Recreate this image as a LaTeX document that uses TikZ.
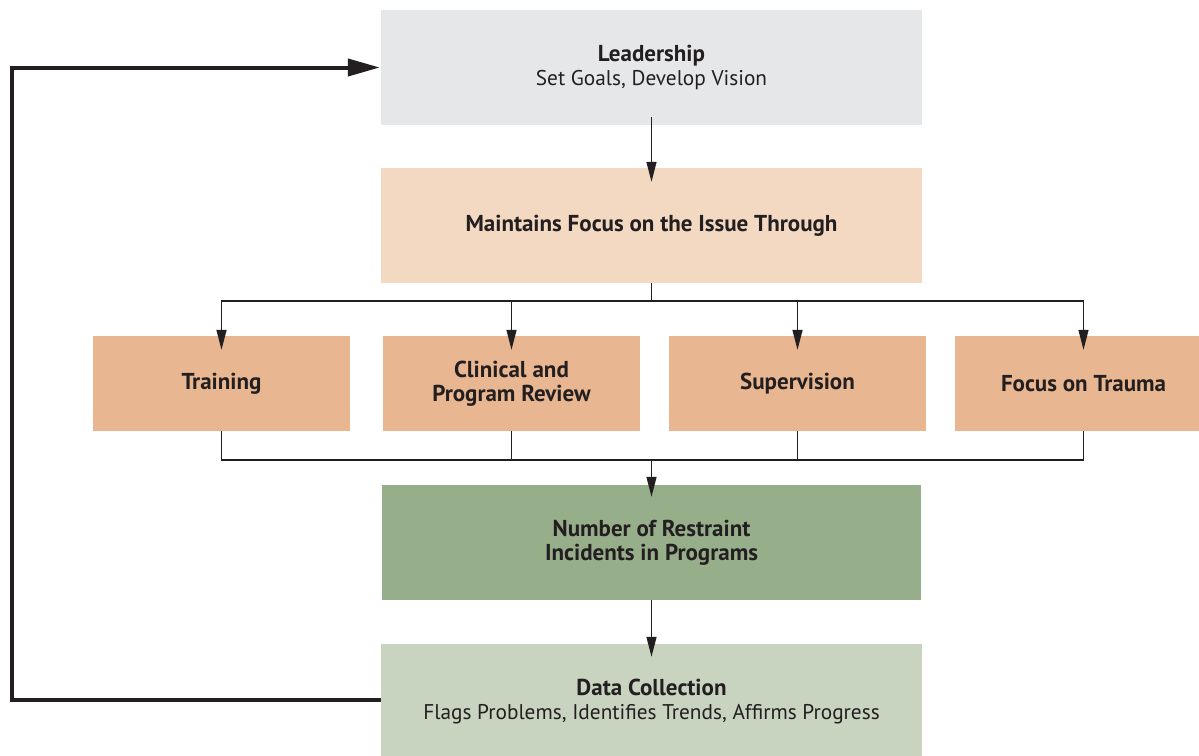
\documentclass[tikz,border=0pt]{standalone}
\usepackage{fontspec}
\setmainfont{PT Sans}
\usetikzlibrary{arrows.meta}
\definecolor{ink}{HTML}{231F20}
\definecolor{leadfill}{HTML}{E6E7E8}
\definecolor{focusfill}{HTML}{F3D8C2}
\definecolor{rowfill}{HTML}{E8B690}
\definecolor{countfill}{HTML}{97AE8B}
\definecolor{datafill}{HTML}{C8D4C0}
% heading text: bold and slightly larger than the body lines
\newcommand{\hdtext}[1]{{\fontsize{23}{24}\selectfont\bfseries #1}}
\begin{document}
\begin{tikzpicture}[x=1pt,y=-1pt,
  wide/.style={rectangle,inner sep=0pt,minimum width=541pt,minimum height=115pt,
    align=center,text=ink,font=\fontsize{21.3}{24}\selectfont},
  item/.style={rectangle,inner sep=0pt,minimum width=257pt,minimum height=95pt,
    fill=rowfill,align=center,text=ink,font=\fontsize{23}{24}\selectfont\bfseries},
  link/.style={draw=ink,line width=1.4pt},
  linkarrow/.style={link,-{Triangle[length=20pt,width=10pt]}},
  loopback/.style={draw=ink,line width=4pt,-{Triangle[length=32pt,width=17pt]}}]
\useasboundingbox (0,0) rectangle (1199,755);
\begin{scope}
\clip (0,0) rectangle (1199,755);
% main column
\node[wide,fill=leadfill] (lead) at (651.5,67.5) {\hdtext{Leadership}\\Set Goals, Develop Vision};
\node[wide,fill=focusfill] (focus) at (651.5,225.5) {\hdtext{Maintains Focus on the Issue Through}};
% four strategies
\node[item] (train) at (221.5,383.5) {Training};
\node[item] (review) at (511.5,383.5) {Clinical and\\Program Review};
\node[item] (super) at (797.5,383.5) {Supervision};
\node[item] (trauma) at (1083.5,383.5) {Focus on Trauma};
% outcome and measurement
\node[wide,fill=countfill,minimum width=539pt] (count) at (651.5,542.5) {\hdtext{Number of Restraint}\\\hdtext{Incidents in Programs}};
\node[wide,fill=datafill] (data) at (651.5,701.5) {\hdtext{Data Collection}\\Flags Problems, Identifies Trends, Affirms Progress};
\end{scope}
% branching and merging points
\coordinate (split) at (651.5,301);
\coordinate (merge) at (651.5,460);
\coordinate (rail) at (12,0);
% connectors
\draw[linkarrow] ([yshift=8pt]lead.south) -- ([yshift=-14pt]focus.north);
\draw[link] (focus.south) -- (split);
\foreach \n in {train,review,super,trauma}{
  \draw[linkarrow] (split) -| ([yshift=-14pt]\n.north);
  \draw[link] (\n.south) |- (merge);
}
\draw[linkarrow] (merge) -- ([yshift=-12pt]count.north);
\draw[linkarrow] (count.south) -- ([yshift=-13pt]data.north);
% feedback loop
\draw[loopback] ([yshift=1.5pt]data.west) -| (rail |- lead.west) -- ([xshift=-1pt]lead.west);
\end{tikzpicture}
\end{document}
